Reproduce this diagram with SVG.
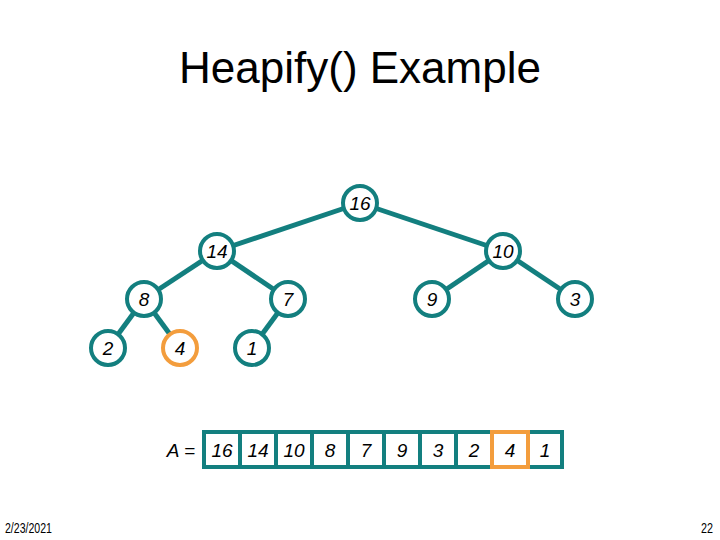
<svg xmlns="http://www.w3.org/2000/svg" width="720" height="540" viewBox="0 0 720 540">
<style>
.edge{stroke:#137f7f;stroke-width:5;fill:none}
.node circle{fill:#fff;stroke:#137f7f;stroke-width:4}
.node.hl circle{stroke:#f39d3d}
.lbl{font-family:"Liberation Sans",Arial,sans-serif;font-style:italic;font-size:19px;text-anchor:middle;fill:#000}
.cell{fill:#fff;stroke:#137f7f;stroke-width:4}
.cell.hl{stroke:#f39d3d}
.title{font-family:"Liberation Sans",Arial,sans-serif;font-size:44px;text-anchor:middle;fill:#000}
.foot{font-family:"Liberation Sans",Arial,sans-serif;font-size:14px;fill:#000}
</style>
<rect width="720" height="540" fill="#fff"/>
<text class="title" x="360" y="83">Heapify() Example</text>
<g id="connectors">
<line class="edge" x1="360" y1="203" x2="217" y2="251"/>
<line class="edge" x1="360" y1="203" x2="503" y2="251"/>
<line class="edge" x1="217" y1="251" x2="144" y2="299"/>
<line class="edge" x1="217" y1="251" x2="288" y2="299"/>
<line class="edge" x1="503" y1="251" x2="432" y2="299"/>
<line class="edge" x1="503" y1="251" x2="575" y2="299"/>
<line class="edge" x1="144" y1="299" x2="108" y2="348"/>
<line class="edge" x1="144" y1="299" x2="180" y2="348"/>
<line class="edge" x1="288" y1="299" x2="252" y2="348"/>
</g>
<g id="n16" class="node"><circle cx="360" cy="203" r="17"/><text class="lbl" x="360" y="209.5">16</text></g>
<g id="n14" class="node"><circle cx="217" cy="251" r="17"/><text class="lbl" x="217" y="257.5">14</text></g>
<g id="n10" class="node"><circle cx="503" cy="251" r="17"/><text class="lbl" x="503" y="257.5">10</text></g>
<g id="n8" class="node"><circle cx="144" cy="299" r="17"/><text class="lbl" x="144" y="305.5">8</text></g>
<g id="n7" class="node"><circle cx="288" cy="299" r="17"/><text class="lbl" x="288" y="305.5">7</text></g>
<g id="n9" class="node"><circle cx="432" cy="299" r="17"/><text class="lbl" x="432" y="305.5">9</text></g>
<g id="n3" class="node"><circle cx="575" cy="299" r="17"/><text class="lbl" x="575" y="305.5">3</text></g>
<g id="n2" class="node"><circle cx="108" cy="348" r="17"/><text class="lbl" x="108" y="354.5">2</text></g>
<g id="n4" class="node hl"><circle cx="180" cy="348" r="17"/><text class="lbl" x="180" y="354.5">4</text></g>
<g id="n1" class="node"><circle cx="252" cy="348" r="17"/><text class="lbl" x="252" y="354.5">1</text></g>
<g id="array">
<text class="lbl" x="181" y="457" font-size="20">A =</text>
<rect class="cell" x="204" y="432" width="36" height="35"/>
<rect class="cell" x="240" y="432" width="36" height="35"/>
<rect class="cell" x="276" y="432" width="36" height="35"/>
<rect class="cell" x="312" y="432" width="36" height="35"/>
<rect class="cell" x="348" y="432" width="36" height="35"/>
<rect class="cell" x="384" y="432" width="36" height="35"/>
<rect class="cell" x="420" y="432" width="36" height="35"/>
<rect class="cell" x="456" y="432" width="36" height="35"/>
<rect class="cell" x="528" y="432" width="34" height="35"/>
<rect class="cell hl" x="492" y="432" width="36" height="35"/>
<text class="lbl" x="222" y="456.5">16</text>
<text class="lbl" x="258" y="456.5">14</text>
<text class="lbl" x="294" y="456.5">10</text>
<text class="lbl" x="330" y="456.5">8</text>
<text class="lbl" x="366" y="456.5">7</text>
<text class="lbl" x="402" y="456.5">9</text>
<text class="lbl" x="438" y="456.5">3</text>
<text class="lbl" x="474" y="456.5">2</text>
<text class="lbl" x="510" y="456.5">4</text>
<text class="lbl" x="545" y="456.5">1</text>
</g>
<text class="foot" x="5" y="533" textLength="47" lengthAdjust="spacingAndGlyphs">2/23/2021</text>
<text class="foot" x="713" y="533" text-anchor="end" textLength="12" lengthAdjust="spacingAndGlyphs">22</text>
</svg>
